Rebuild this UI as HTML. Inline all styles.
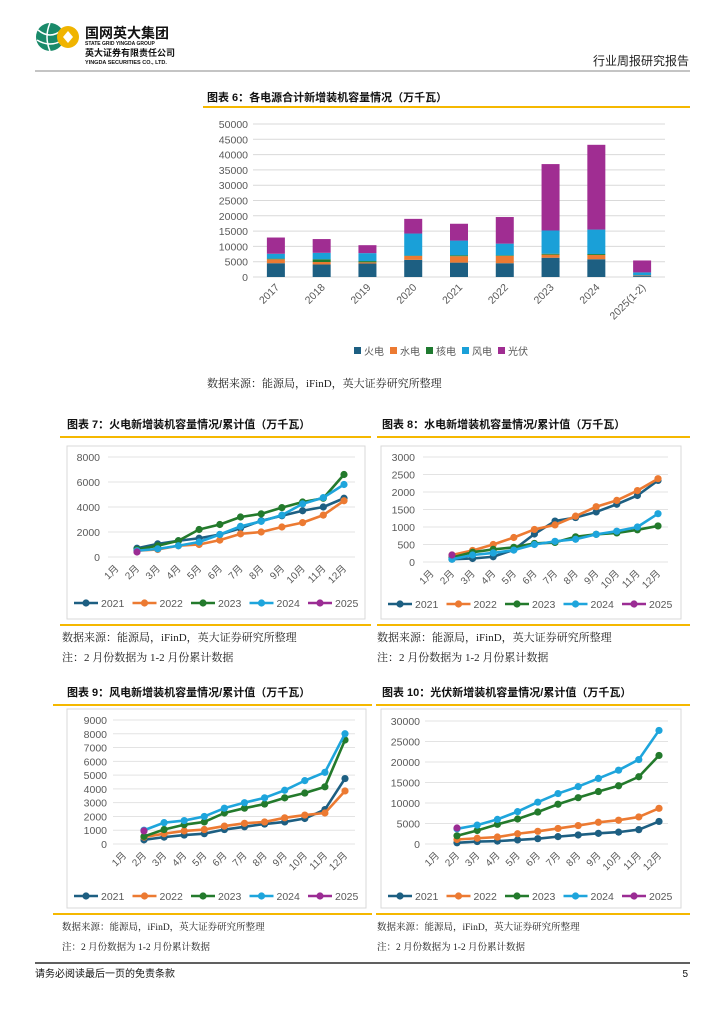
<!DOCTYPE html>
<html><head><meta charset="utf-8">
<style>
body{margin:0;background:#fff;}
svg{display:block;font-family:"Liberation Sans","Noto Sans CJK SC",sans-serif;}
.t{font-family:"Liberation Serif","Noto Serif CJK SC",serif;}
</style></head>
<body>
<svg id="page" width="724" height="1024" viewBox="0 0 724 1024" xmlns="http://www.w3.org/2000/svg">
  <g>
    <g>
      <circle cx="50" cy="37" r="14" fill="#1a8a6a"/>
      <path d="M38 30 Q50 40 62 30 M37 40 Q50 48 63 40 M50 23 Q44 37 50 51" stroke="#fff" stroke-width="1.5" fill="none"/>
      <circle cx="68" cy="37" r="11" fill="#f0b400"/>
      <path d="M63 37 L68 31 L73 37 L68 43 Z" fill="#fff"/>
    </g>
    <text x="85" y="38" font-size="14" font-weight="bold" fill="#111">国网英大集团</text>
    <text x="85" y="45" font-size="5" font-weight="bold" fill="#111">STATE GRID YINGDA GROUP</text>
    <text x="85" y="56" font-size="9" font-weight="bold" fill="#111">英大证券有限责任公司</text>
    <text x="85" y="64" font-size="5.5" font-weight="bold" fill="#111">YINGDA SECURITIES CO., LTD.</text>
    <text x="689" y="65" font-size="12" text-anchor="end" fill="#222">行业周报研究报告</text>
    <line x1="35" y1="71" x2="690" y2="71" stroke="#888" stroke-width="1"/>
  </g>
  <g id="fig6"></g>
  <g id="fig7"></g>
  <g id="fig8"></g>
  <g id="fig9"></g>
  <g id="fig10"></g>
  <g>
    <line x1="35" y1="963" x2="690" y2="963" stroke="#000" stroke-width="1.2"/>
    <text x="35" y="977" font-size="10" fill="#111">请务必阅读最后一页的免责条款</text>
    <text x="688" y="977" font-size="10" text-anchor="end" fill="#111">5</text>
  </g>
</svg>
<script>
// Figure 6 data
const barYears = ["2017","2018","2019","2020","2021","2022","2023","2024","2025(1-2)"];
const barSeriesNames = ["火电","水电","核电","风电","光伏"];
const thermalBar = [4500,4100,4400,5600,4700,4500,6300,5800,300];
const hydroBar = [1300,800,400,1300,2100,2400,1000,1400,200];
const nuclearBar = [200,900,400,100,300,200,300,300,0];
const windBar = [1600,2100,2600,7200,4800,3800,7600,8000,1000];
const solarBar = [5300,4500,2600,4800,5500,8700,21700,27700,3900];
const barTicks = [0,5000,10000,15000,20000,25000,30000,35000,40000,45000,50000];

// Line charts
const months = ["1月","2月","3月","4月","5月","6月","7月","8月","9月","10月","11月","12月"];
const lineYears = ["2021","2022","2023","2024","2025"];
const thermal2021 = [null,700,1050,1300,1500,1800,2300,2900,3300,3700,4000,4700];
const thermal2022 = [null,500,600,900,1000,1350,1850,2000,2400,2750,3350,4500];
const thermal2023 = [null,600,900,1300,2200,2600,3200,3450,3950,4400,4700,6600];
const thermal2024 = [null,500,650,900,1200,1800,2450,2850,3350,4250,4750,5800];
const thermal2025 = [null,400];
const thermalTicks = [0,2000,4000,6000,8000];

const hydro2021 = [null,80,100,150,350,800,1170,1270,1430,1650,1900,2330];
const hydro2022 = [null,200,330,500,700,930,1060,1310,1580,1760,2040,2380];
const hydro2023 = [null,130,280,360,420,530,560,720,790,830,920,1030];
const hydro2024 = [null,80,200,260,340,500,590,650,790,880,1000,1380];
const hydro2025 = [null,200];
const hydroTicks = [0,500,1000,1500,2000,2500,3000];

const wind2021 = [null,300,500,650,750,1050,1250,1450,1600,1850,2500,4750];
const wind2022 = [null,500,750,950,1050,1300,1500,1600,1900,2100,2250,3850];
const wind2023 = [null,550,1050,1400,1600,2250,2600,2900,3350,3700,4150,7550];
const wind2024 = [null,1000,1550,1700,2000,2600,3000,3350,3900,4600,5200,8000];
const wind2025 = [null,950];
const windTicks = [0,1000,2000,3000,4000,5000,6000,7000,8000,9000];

const solar2021 = [null,300,600,700,1000,1300,1800,2200,2600,2900,3500,5500];
const solar2022 = [null,1100,1400,1700,2500,3100,3800,4500,5300,5800,6600,8700];
const solar2023 = [null,2000,3300,4800,6100,7800,9700,11300,12800,14200,16400,21600];
const solar2024 = [null,3700,4600,6000,7900,10200,12300,14000,16000,18000,20600,27700];
const solar2025 = [null,3900];
const solarTicks = [0,5000,10000,15000,20000,25000,30000];

const NS="http://www.w3.org/2000/svg";
function mk(tag,attrs,parent,txt){const e=document.createElementNS(NS,tag);for(const k in attrs)e.setAttribute(k,attrs[k]);if(txt!==undefined)e.textContent=txt;parent.appendChild(e);return e;}
const barColors=["#1d5f82","#ec7a32","#1f7a30","#1aa0d8","#a02d92"];
const lineColors=["#1d5f82","#ec7a32","#237a2c","#1ea5dc","#9b2c94"];

// ---------- Figure 6 ----------
(function(){
  const g=document.getElementById('fig6');
  let t=mk('text',{x:207,y:101,'font-size':11,'font-weight':'bold',fill:'#111'},g,'图表 6：各电源合计新增装机容量情况（万千瓦）');
  
  
  mk('line',{x1:203,y1:107,x2:690,y2:107,stroke:'#f5b800','stroke-width':2},g);
  const x0=253,x1=665,yTop=124,yBot=277,maxV=50000;
  const ys=v=>yBot-(v/maxV)*(yBot-yTop);
  const band=(x1-x0)/barYears.length;
  const xs=i=>x0+band*(i+0.5);
  barTicks.forEach(v=>{
    mk('line',{x1:x0,y1:ys(v),x2:x1,y2:ys(v),stroke:'#d9d9d9','stroke-width':1},g);
    const l=mk('text',{x:248,y:ys(v)+4,'font-size':10.5,'text-anchor':'end',fill:'#595959'},g,String(v));
    
    
  });
  const series=[thermalBar,hydroBar,nuclearBar,windBar,solarBar];
  barYears.forEach((yr,i)=>{
    let acc=0;
    series.forEach((s,k)=>{
      const v=s[i];
      const r=mk('rect',{x:xs(i)-9,y:ys(acc+v),width:18,height:ys(acc)-ys(acc+v),fill:barColors[k]},g);
      
      
      acc+=v;
    });
    const l=mk('text',{x:xs(i)+4,y:288,'font-size':10.5,'text-anchor':'end',fill:'#595959',transform:`rotate(-45 ${xs(i)+4} 288)`},g,yr);
    
    
  });
  let lx=354;
  barSeriesNames.forEach((n,k)=>{
    mk('rect',{x:lx,y:347,width:7,height:7,fill:barColors[k]},g);
    const l=mk('text',{x:lx+10,y:355,'font-size':10,fill:'#595959'},g,n);
    
    
    lx+=36;
  });
  const s=mk('text',{x:207,y:387,'font-size':11,fill:'#222',class:'t'},g,'数据来源：能源局，iFinD，英大证券研究所整理');
  
  
})();

// ---------- Line charts ----------
function lineChart(id,title,opt,data,ticks){
  const g=document.getElementById(id);
  const t=mk('text',{x:opt.tx,y:opt.ty,'font-size':11,'font-weight':'bold',fill:'#111'},g,title);
  
  
  mk('line',{x1:opt.ox0,y1:opt.ty+9,x2:opt.ox1,y2:opt.ty+9,stroke:'#f5b800','stroke-width':2},g);
  mk('rect',{x:opt.fx0,y:opt.fy0,width:opt.fx1-opt.fx0,height:opt.fy1-opt.fy0,fill:'#fff',stroke:'#d9d9d9','stroke-width':1},g);
  mk('line',{x1:opt.ox0,y1:opt.fy1+6,x2:opt.ox1,y2:opt.fy1+6,stroke:'#f5b800','stroke-width':2},g);
  const maxV=ticks[ticks.length-1];
  const ys=v=>opt.y0-(v/maxV)*(opt.y0-opt.yTop);
  const step=opt.step;
  const xs=i=>opt.xm1+(i-1)*step;
  ticks.forEach(v=>{
    mk('line',{x1:opt.gx0,y1:ys(v),x2:opt.gx1,y2:ys(v),stroke:'#e3e3e3','stroke-width':1},g);
    const l=mk('text',{x:opt.lx,y:ys(v)+4,'font-size':10.5,'text-anchor':'end',fill:'#595959'},g,String(v));
    
    
  });
  months.forEach((m,i)=>{
    const x=xs(i)+3,y=opt.y0+12;
    const l=mk('text',{x:x,y:y,'font-size':10,'text-anchor':'end',fill:'#595959',transform:`rotate(-45 ${x} ${y})`},g,m);
    
    
  });
  data.forEach((arr,k)=>{
    const pts=[];
    arr.forEach((v,i)=>{if(v!==null&&v!==undefined)pts.push([xs(i),ys(v)]);});
    const p=mk('polyline',{points:pts.map(p=>p.join(',')).join(' '),fill:'none',stroke:lineColors[k],'stroke-width':2.6,'stroke-linejoin':'round'},g);
    
    
    pts.forEach(pt=>{
      const c=mk('circle',{cx:pt[0],cy:pt[1],r:3.6,fill:lineColors[k]},g);
      
      
    });
  });
  let lx=opt.legx;
  lineYears.forEach((yr,k)=>{
    mk('line',{x1:lx,y1:opt.legy,x2:lx+24,y2:opt.legy,stroke:lineColors[k],'stroke-width':2.6},g);
    mk('circle',{cx:lx+12,cy:opt.legy,r:3.6,fill:lineColors[k]},g);
    const l=mk('text',{x:lx+27,y:opt.legy+4,'font-size':10.5,fill:'#595959'},g,yr);
    
    
    lx+=58.5;
  });
  const s=mk('text',{x:opt.tx-5,y:opt.fy1+22,'font-size':opt.nfs,fill:'#222',class:'t'},g,'数据来源：能源局，iFinD，英大证券研究所整理');
  
  
  const n=mk('text',{x:opt.tx-5,y:opt.fy1+42,'font-size':opt.nfs,fill:'#222',class:'t'},g,'注：2 月份数据为 1-2 月份累计数据');
  
  
}
lineChart('fig7','图表 7：火电新增装机容量情况/累计值（万千瓦）',
  {tx:67,ty:428,ox0:60,ox1:371,fx0:67,fx1:365,fy0:446,fy1:619,y0:557,yTop:457,gx0:108,gx1:355,lx:100,xm1:137,step:20.7,legx:74,legy:603,nfs:11},
  [thermal2021,thermal2022,thermal2023,thermal2024,thermal2025],thermalTicks);
lineChart('fig8','图表 8：水电新增装机容量情况/累计值（万千瓦）',
  {tx:382,ty:428,ox0:377,ox1:690,fx0:381,fx1:681,fy0:446,fy1:619,y0:562,yTop:457,gx0:423,gx1:668,lx:415,xm1:452,step:20.6,legx:388,legy:604,nfs:11},
  [hydro2021,hydro2022,hydro2023,hydro2024,hydro2025],hydroTicks);
lineChart('fig9','图表 9：风电新增装机容量情况/累计值（万千瓦）',
  {tx:67,ty:696,ox0:53,ox1:372,fx0:67,fx1:366,fy0:709,fy1:908,y0:844,yTop:720,gx0:113,gx1:355,lx:107,xm1:144,step:20.1,legx:74,legy:896,nfs:9.5},
  [wind2021,wind2022,wind2023,wind2024,wind2025],windTicks);
lineChart('fig10','图表 10：光伏新增装机容量情况/累计值（万千瓦）',
  {tx:382,ty:696,ox0:376,ox1:690,fx0:381,fx1:681,fy0:709,fy1:908,y0:844,yTop:721,gx0:425,gx1:668,lx:420,xm1:457,step:20.2,legx:388,legy:896,nfs:9.5},
  [solar2021,solar2022,solar2023,solar2024,solar2025],solarTicks);
</script>
</body></html>
